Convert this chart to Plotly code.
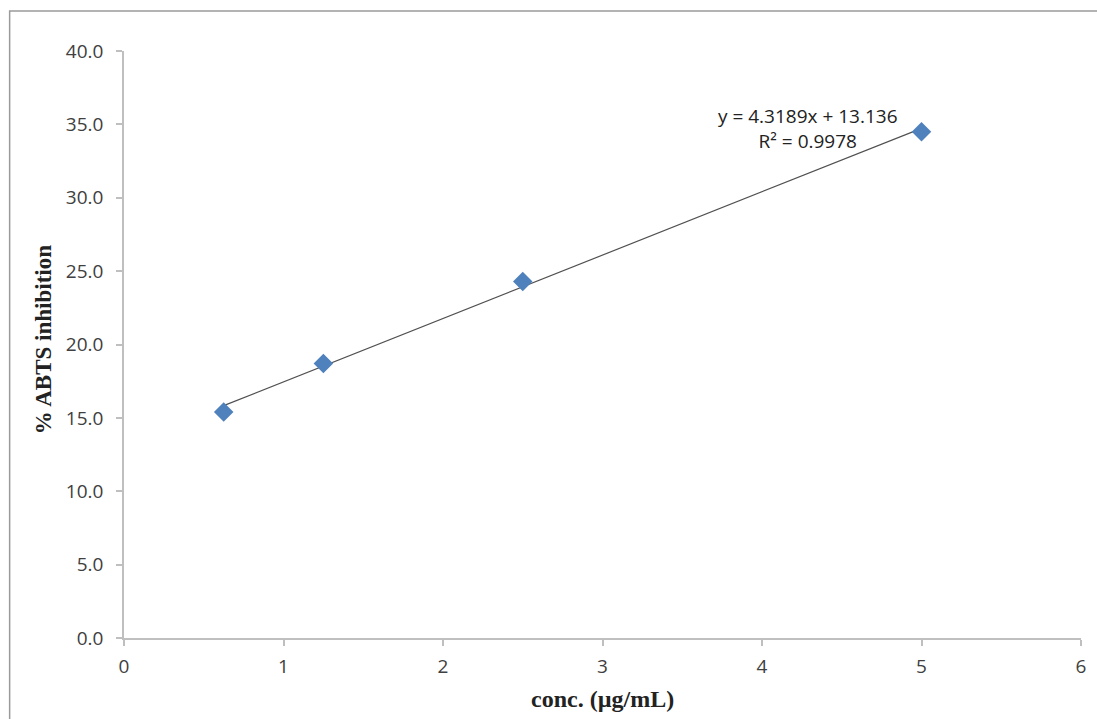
import plotly.graph_objects as go

conc = [0.625, 1.25, 2.5, 5.0]
inhibition = [15.4, 18.7, 24.3, 34.5]
slope = 4.3189
intercept = 13.136
r2 = 0.9978
x_ticks = [0, 1, 2, 3, 4, 5, 6]
y_ticks = [0, 5, 10, 15, 20, 25, 30, 35, 40]

trend_x = [min(conc), max(conc)]
trend_y = [slope * v + intercept for v in trend_x]

fig = go.Figure()
fig.add_trace(go.Scatter(x=trend_x, y=trend_y, mode="lines",
                         line=dict(color="#505050", width=1.2), showlegend=False))
fig.add_trace(go.Scatter(x=conc, y=inhibition, mode="markers",
                         marker=dict(symbol="diamond", size=15, color="#4f81bd",
                                     line=dict(width=0)), showlegend=False))

tickfont = dict(family="Open Sans, Liberation Sans, sans-serif", size=19, color="#404040")
serif = "Liberation Serif, Times New Roman, serif"
fig.update_layout(
    width=1097, height=719,
    margin=dict(l=124, r=11, t=51, b=81),
    paper_bgcolor="white", plot_bgcolor="white",
    xaxis=dict(range=[0, 6], tickvals=x_ticks, showgrid=False, zeroline=False,
               showline=True, linecolor="#bfbfbf", linewidth=1.5,
               ticks="outside", ticklen=6, tickcolor="#bfbfbf", tickwidth=1.5,
               tickfont=tickfont, ticklabelstandoff=4),
    yaxis=dict(range=[0, 40], tickvals=y_ticks, tickformat=".1f", showgrid=False, zeroline=False,
               showline=True, linecolor="#bfbfbf", linewidth=1.5,
               ticks="outside", ticklen=6, tickcolor="#bfbfbf", tickwidth=1.5,
               tickfont=tickfont, ticklabelstandoff=9),
    annotations=[
        dict(x=4.29, y=34.75, xref="x", yref="y",
             text=f"y = {slope}x + {intercept}<br>R² = {r2}",
             showarrow=False, align="center",
             font=dict(family="Open Sans, Liberation Sans, sans-serif", size=19, color="#222")),
        dict(x=-0.0842, y=0.508, xref="paper", yref="paper", text="<b>% ABTS inhibition</b>",
             textangle=-90, showarrow=False, xanchor="center", yanchor="middle",
             font=dict(family=serif, size=23, color="#222")),
        dict(x=0.5, y=-0.1039, xref="paper", yref="paper", text="<b>conc. (µg/mL)</b>",
             showarrow=False, xanchor="center", yanchor="middle",
             font=dict(family=serif, size=24, color="#222")),
    ],
    shapes=[
        dict(type="rect", xref="paper", yref="paper", x0=-0.1195, x1=1.2, y0=-0.3, y1=1.068,
             line=dict(color="#9a9a9a", width=1.5), fillcolor="rgba(0,0,0,0)", layer="below"),
    ],
)
fig.write_html("out.html")
